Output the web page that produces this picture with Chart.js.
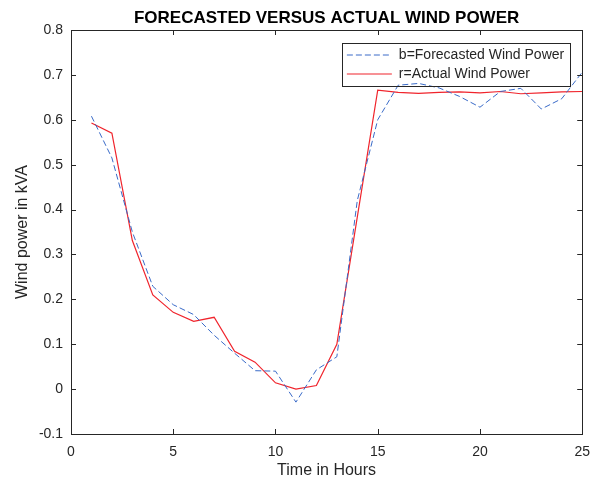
<!DOCTYPE html>
<html>
<head>
<meta charset="utf-8">
<script src="https://cdn.jsdelivr.net/npm/chart.js@4/dist/chart.umd.min.js"></script>
<style>
  html, body { margin: 0; padding: 0; background: #fff; }
  #wrap { width: 600px; height: 483px; }
</style>
</head>
<body>
<div id="wrap"><canvas id="windChart"></canvas></div>
<script>
const hours = [1, 2, 3, 4, 5, 6, 7, 8, 9, 10, 11, 12, 13, 14, 15, 16, 17, 18, 19, 20, 21, 22, 23, 24, 25];

const forecasted = [0.608, 0.515, 0.350, 0.229, 0.188, 0.166, 0.120, 0.080, 0.041, 0.040,
    -0.029, 0.043, 0.072, 0.420, 0.600, 0.677, 0.681, 0.671, 0.652, 0.628,
    0.663, 0.670, 0.624, 0.647, 0.706];

const actual = [0.593, 0.570, 0.331, 0.210, 0.171, 0.151, 0.160, 0.084, 0.060, 0.014,
    0.000, 0.008, 0.100, 0.383, 0.666, 0.661, 0.659, 0.661, 0.662, 0.660,
    0.663, 0.658, 0.660, 0.662, 0.663];

const chartTitle = "FORECASTED VERSUS ACTUAL WIND POWER";
const axisColor = "#262626";

Chart.defaults.font.family = "'Liberation Sans', Arial, sans-serif";
Chart.defaults.color = axisColor;

// matlab style box, inward ticks, legend frame and title
const matlabAxes = {
    id: "matlabAxes",
    afterLayout(chart) {
        const lg = chart.legend;
        const ca = chart.chartArea;
        const ctx = chart.ctx;
        ctx.save();
        ctx.font = "14px 'Liberation Sans', Arial, sans-serif";
        const textW = Math.max(...lg.legendItems.map(i => ctx.measureText(i.text).width));
        ctx.restore();
        const w = 5 + 45 + 7 + textW + 6;
        lg.left = ca.right - 12 - w;
        lg.right = lg.left + w;
        lg.top = ca.top + 13;
        lg.bottom = ca.bottom;
        lg.width = w;
        lg.height = lg.bottom - lg.top;
        lg._frameW = w;
    },
    afterDraw(chart) {
        const ctx = chart.ctx;
        const ca = chart.chartArea;
        const xs = chart.scales.x;
        const ys = chart.scales.y;
        ctx.save();
        ctx.strokeStyle = axisColor;
        ctx.lineWidth = 1;
        ctx.strokeRect(Math.round(ca.left) + 0.5, Math.round(ca.top) + 0.5,
            Math.round(ca.right - ca.left), Math.round(ca.bottom - ca.top));

        ctx.beginPath();
        xs.ticks.forEach(t => {
            const px = Math.round(xs.getPixelForValue(t.value)) + 0.5;
            ctx.moveTo(px, ca.bottom);
            ctx.lineTo(px, ca.bottom - 5);
            ctx.moveTo(px, ca.top);
            ctx.lineTo(px, ca.top + 5);
        });
        ys.ticks.forEach(t => {
            const py = Math.round(ys.getPixelForValue(t.value)) + 0.5;
            ctx.moveTo(ca.left, py);
            ctx.lineTo(ca.left + 5, py);
            ctx.moveTo(ca.right, py);
            ctx.lineTo(ca.right - 5, py);
        });
        ctx.stroke();

        // legend frame
        const lg = chart.legend;
        ctx.strokeStyle = "#262626";
        ctx.strokeRect(Math.round(lg.left) + 0.5, Math.round(lg.top) + 0.5, Math.round(lg._frameW), 43);

        ctx.fillStyle = "#000";
        ctx.font = "bold 17px 'Liberation Sans', Arial, sans-serif";
        ctx.textAlign = "center";
        ctx.textBaseline = "alphabetic";
        ctx.fillText(chartTitle, (ca.left + ca.right) / 2, 22.5);
        ctx.restore();
    }
};

const ctx = document.getElementById("windChart");

new Chart(ctx, {
    type: "line",
    data: {
        datasets: [
            {
                label: "b=Forecasted Wind Power",
                data: hours.map((h, i) => ({ x: h, y: forecasted[i] })),
                borderColor: "#3a6bc8",
                borderWidth: 1,
                borderDash: [6, 3],
                pointRadius: 0,
                tension: 0
            },
            {
                label: "r=Actual Wind Power",
                data: hours.map((h, i) => ({ x: h, y: actual[i] })),
                borderColor: "#f0242c",
                borderWidth: 1.2,
                pointRadius: 0,
                tension: 0
            }
        ]
    },
    options: {
        responsive: true,
        maintainAspectRatio: false,
        animation: false,
        layout: {
            padding: { top: 30, right: 16, bottom: 0, left: 0 }
        },
        plugins: {
            title: { display: false },
            tooltip: { enabled: false },
            legend: {
                position: "chartArea",
                align: "start",
                labels: {
                    usePointStyle: true,
                    pointStyle: "line",
                    pointStyleWidth: 45,
                    boxHeight: 14,
                    padding: 5,
                    textAlign: "left",
                    color: axisColor,
                    font: { size: 14 },
                    generateLabels(chart) {
                        const items = Chart.defaults.plugins.legend.labels.generateLabels(chart);
                        return items.map(item => {
                            const ds = chart.data.datasets[item.datasetIndex];
                            item.lineDash = ds.borderDash || [];
                            item.lineWidth = ds.borderWidth;
                            item.strokeStyle = ds.borderColor;
                            return item;
                        });
                    }
                }
            }
        },
        scales: {
            x: {
                type: "linear",
                min: 0,
                max: 25,
                ticks: {
                    stepSize: 5,
                    padding: 10,
                    maxRotation: 0,
                    font: { size: 14 },
                    color: axisColor
                },
                grid: { display: false, drawTicks: false },
                border: { display: false },
                title: {
                    display: true,
                    text: "Time in Hours",
                    color: axisColor,
                    font: { size: 16 },
                    padding: { top: 0, bottom: 3 }
                },
                afterFit(scale) { scale.height = 49; }
            },
            y: {
                min: -0.1,
                max: 0.8,
                ticks: {
                    stepSize: 0.1,
                    padding: 8,
                    font: { size: 14 },
                    color: axisColor,
                    callback: v => String(Number(v.toFixed(1)))
                },
                grid: { display: false, drawTicks: false },
                border: { display: false },
                title: {
                    display: true,
                    text: "Wind power in kVA",
                    color: axisColor,
                    font: { size: 16 },
                    padding: { top: 13, bottom: 0 }
                },
                afterFit(scale) { scale.width = 71; }
            }
        }
    },
    plugins: [matlabAxes]
});
</script>
</body>
</html>
